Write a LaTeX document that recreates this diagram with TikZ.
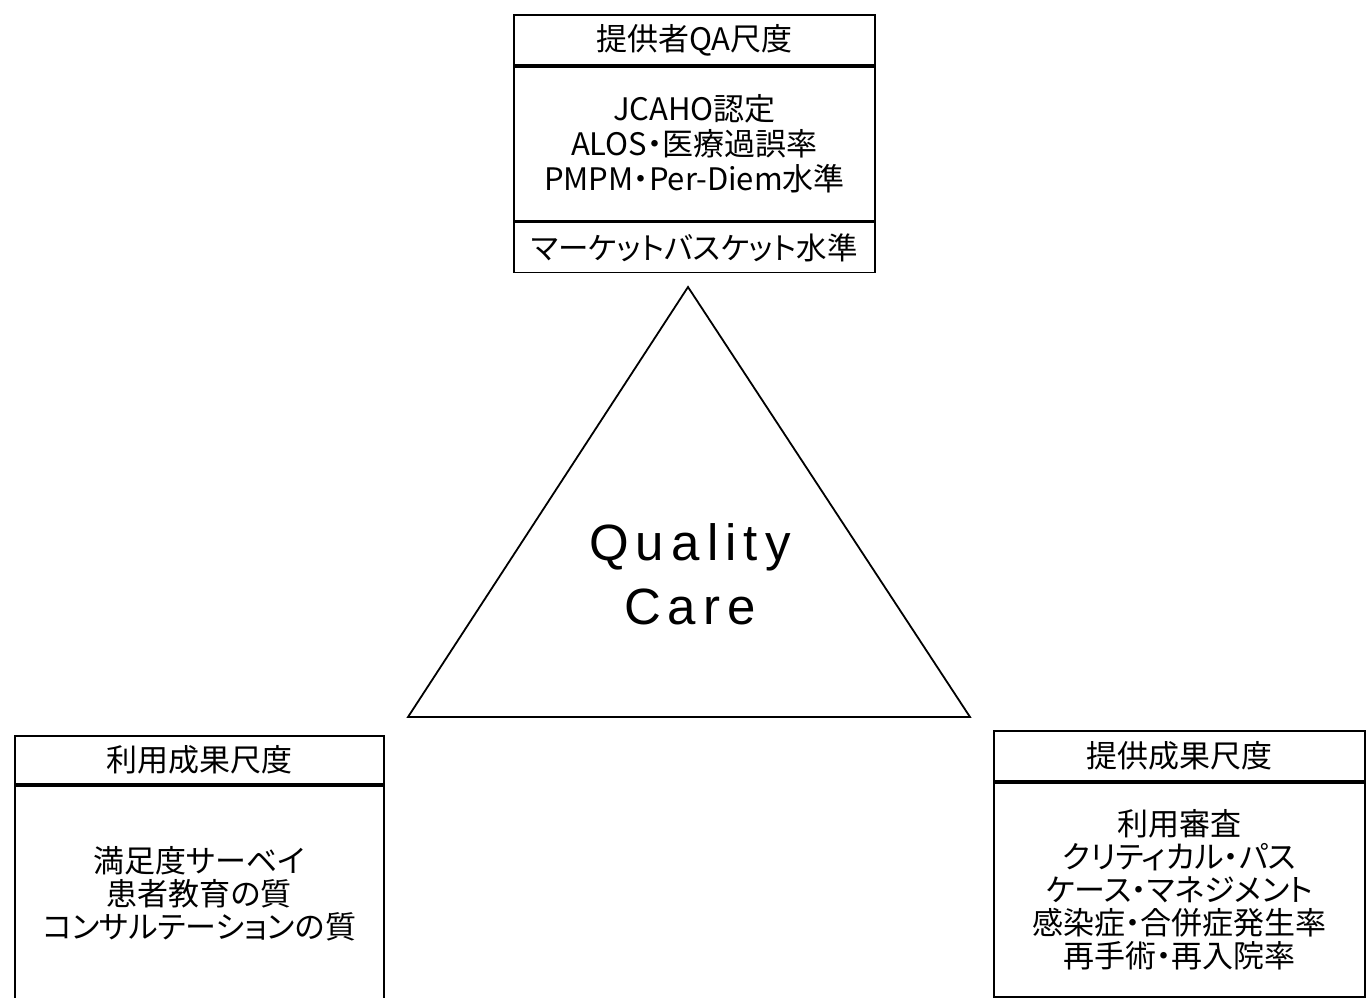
\documentclass[tikz,border=0pt]{standalone}
\usepackage{fontspec}
\setmainfont{Noto Sans CJK JP}[RawFeature=+palt]
\newfontfamily\qcfont{Liberation Sans}[LetterSpace=14]
\newcommand\fsz[2]{\fontsize{#1}{#2}\selectfont}
\begin{document}
\begin{tikzpicture}[x=1pt,y=-1pt,
  box/.style={draw, line width=1.8pt, inner sep=0pt, align=center, text=black},
  tri/.style={draw, line width=1.8pt, line join=miter}]
\useasboundingbox (0,0) rectangle (1367,997);
\clip (0,0) rectangle (1367,997);
% top box
\node[box, anchor=north west, minimum width=361pt, minimum height=50pt, font=\fsz{31}{35}] (qahead) at (513,14) {提供者QA尺度};
\node[box, anchor=north, minimum width=361pt, minimum height=154pt, font=\fsz{31}{35}] (qabody) at (qahead.south)
  {JCAHO認定\\ALOS・医療過誤率\\PMPM・Per-Diem水準};
\node[box, anchor=north, minimum width=361pt, minimum height=50pt, font=\fsz{30.5}{35}] (qamarket) at (qabody.south) {マーケットバスケット水準};
% triangle
\coordinate (apex) at (688,287);
\coordinate (bl) at (408,717);
\coordinate (br) at (970,717);
\draw[tri] (apex) -- (bl) -- (br) -- cycle;
\node[align=center, inner sep=0pt, font=\qcfont\fsz{51}{64}] (qc) at (690,574) {Quality\\Care};
% bottom left box
\node[box, anchor=north west, minimum width=369pt, minimum height=48pt, font=\fsz{31}{35}] (ushead) at (14,735) {利用成果尺度};
\node[box, anchor=north, minimum width=369pt, minimum height=216pt, font=\fsz{31}{33}] (usbody) at (ushead.south)
  {満足度サーベイ\\患者教育の質\\コンサルテーションの質};
% bottom right box
\node[box, anchor=north west, minimum width=371pt, minimum height=50pt, font=\fsz{31}{35}] (pohead) at (993,730) {提供成果尺度};
\node[box, anchor=north, minimum width=371pt, minimum height=214pt, font=\fsz{31}{33}] (pobody) at (pohead.south)
  {利用審査\\クリティカル・パス\\ケース・マネジメント\\感染症・合併症発生率\\再手術・再入院率};
\end{tikzpicture}
\end{document}
